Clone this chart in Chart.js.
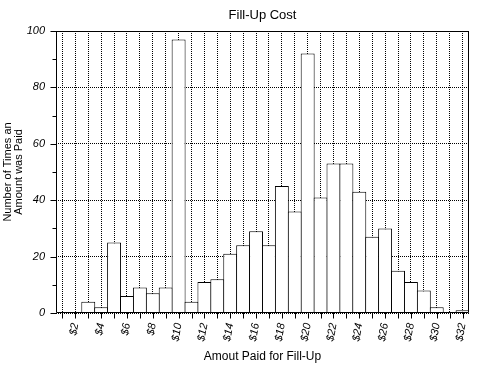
<!DOCTYPE html>
<html><head><meta charset="utf-8">
<script src="https://cdn.jsdelivr.net/npm/chart.js@4/dist/chart.umd.min.js"></script>
<style>html,body{margin:0;padding:0;background:#fff}</style>
</head><body>
<canvas id="c" width="486" height="374"></canvas>
<script>
const categories = ['$1','$2','$3','$4','$5','$6','$7','$8','$9','$10','$11','$12','$13','$14','$15','$16',
  '$17','$18','$19','$20','$21','$22','$23','$24','$25','$26','$27','$28','$29','$30','$31','$32'];
const tickLabels = ['$2','$4','$6','$8','$10','$12','$14','$16','$18','$20','$22','$24','$26','$28','$30','$32'];
const counts = [0,0,4,2,25,6,9,7,9,97,4,11,12,21,24,29,24,45,36,92,41,53,53,43,27,30,15,11,8,2,0,1];
const yTickLabels = [0,20,40,60,80,100];

const frame = {
  id: 'frame',
  afterDraw(chart) {
    const {ctx, chartArea: a, scales: {x, y}} = chart;
    ctx.save();
    ctx.strokeStyle = '#000';
    ctx.lineWidth = 1;
    ctx.setLineDash([]);
    const L = Math.round(a.left) + 0.5, R = Math.round(a.right) - 0.5;
    const T = Math.round(a.top) + 0.5, B = Math.round(a.bottom) - 0.5;
    ctx.beginPath();
    ctx.rect(L, T, R - L, B - T);
    y.ticks.forEach(t => {
      const py = Math.round(y.getPixelForValue(t.value)) + 0.5;
      const len = yTickLabels.includes(t.value) ? 6 : 4;
      ctx.moveTo(L - len, py); ctx.lineTo(L, py);
    });
    x.ticks.forEach((t, i) => {
      const px = Math.round(x.getPixelForTick(i)) + 0.5;
      ctx.moveTo(px, B); ctx.lineTo(px, B + 6);
    });
    ctx.stroke();
    ctx.restore();
  }
};

new Chart(document.getElementById('c'), {
  type: 'bar',
  data: {
    labels: categories,
    datasets: [{
      data: counts,
      backgroundColor: '#ffffff',
      borderColor: '#000000',
      borderWidth: 1,
      barPercentage: 1.08,
      categoryPercentage: 1
    }]
  },
  plugins: [frame],
  options: {
    responsive: false,
    devicePixelRatio: 1,
    animation: false,
    layout: { padding: { left: 0, right: 17, top: 0, bottom: 0 } },
    plugins: {
      legend: { display: false },
      tooltip: { enabled: false },
      title: {
        display: true,
        text: 'Fill-Up Cost',
        fullSize: false,
        color: '#000',
        font: { family: 'Liberation Sans', size: 13, weight: 'normal' },
        padding: { top: 8, bottom: 7.4 }
      }
    },
    scales: {
      x: {
        type: 'category',
        offset: true,
        grid: { offset: false, color: '#000', drawTicks: false, lineWidth: 1 },
        border: { display: false, dash: [1, 1] },
        ticks: {
          autoSkip: false,
          minRotation: 80, maxRotation: 80,
          padding: 9,
          color: '#000',
          font: { family: 'Liberation Sans', size: 11, style: 'italic' },
          callback: function(v, i) { const l = categories[i]; return tickLabels.includes(l) ? l : ''; }
        },
        title: {
          display: true,
          text: 'Amout Paid for Fill-Up',
          color: '#000',
          font: { family: 'Liberation Sans', size: 12 },
          padding: { top: 4, bottom: 10 }
        },
        afterFit: s => { s.height = 61; }
      },
      y: {
        min: 0, max: 100,
        grid: {
          drawTicks: false,
          lineWidth: 1,
          color: c => (yTickLabels.includes(c.tick.value) ? '#000' : 'rgba(0,0,0,0)')
        },
        border: { display: false, dash: [1, 1] },
        ticks: {
          stepSize: 5,
          padding: 11,
          color: '#000',
          font: { family: 'Liberation Sans', size: 11, style: 'italic' },
          callback: v => (yTickLabels.includes(v) ? String(v) : '')
        },
        title: {
          display: true,
          text: ['Number of Times an', 'Amount was Paid'],
          color: '#000',
          font: { family: 'Liberation Sans', size: 11, lineHeight: 1 },
          padding: { top: 2, bottom: 2 }
        },
        afterFit: s => { s.width = 56; }
      }
    }
  }
});
</script>
</body></html>
